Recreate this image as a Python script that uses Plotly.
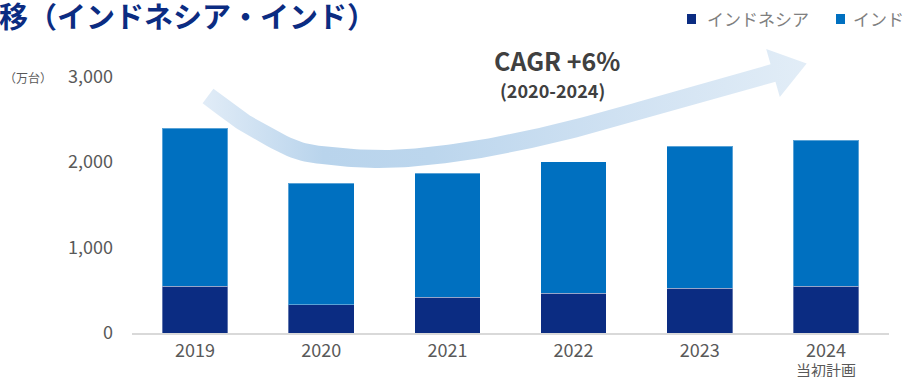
import numpy as np
import plotly.graph_objects as go

# ---- data (万台) ----
years = ["2019", "2020", "2021", "2022", "2023", "2024"]
indonesia = [545, 330, 420, 465, 525, 545]
india = [1850, 1420, 1450, 1535, 1660, 1710]
y_ticks = [0, 1000, 2000, 3000]

NAVY = "#0b2c82"
BLUE = "#0070c0"
GREY = "#595959"
FONT = "Noto Sans CJK JP"

W, H = 905, 377
L, R, T, B = 132, 16, 0, 44
PW, PH = W - L - R, H - T - B


def px(x):
    return (x - L) / PW


def py(y):
    return (H - B - y) / PH


fig = go.Figure()

fig.add_trace(go.Bar(
    x=years, y=indonesia, name="インドネシア",
    marker=dict(color=NAVY, line=dict(color="rgba(255,255,255,0.35)", width=1)),
    hoverinfo="skip",
))
fig.add_trace(go.Bar(
    x=years, y=india, name="インド",
    marker=dict(color=BLUE, line=dict(color="rgba(255,255,255,0.35)", width=1)),
    hoverinfo="skip",
))

# ---- curved growth arrow (drawn in pixel space on an overlay axis pair) ----
ctrl = np.array([
    (208, 96), (232, 114), (250, 126), (294, 149), (330, 156), (375, 159),
    (420, 157), (480, 149), (540, 137), (600, 122), (660, 105), (720, 88), (773, 73),
], dtype=float)


def catmull(points, n=12):
    pts = np.vstack([points[0], points, points[-1]])
    out = []
    for i in range(1, len(pts) - 2):
        p0, p1, p2, p3 = pts[i - 1], pts[i], pts[i + 1], pts[i + 2]
        for t in np.linspace(0, 1, n, endpoint=False):
            t2, t3 = t * t, t * t * t
            out.append(0.5 * ((2 * p1) + (-p0 + p2) * t + (2 * p0 - 5 * p1 + 4 * p2 - p3) * t2
                              + (-p0 + 3 * p1 - 3 * p2 + p3) * t3))
    out.append(points[-1])
    return np.array(out)


curve = catmull(ctrl)
tang = np.gradient(curve, axis=0)
tang /= np.linalg.norm(tang, axis=1, keepdims=True)
norm = np.stack([-tang[:, 1], tang[:, 0]], axis=1)
half = 9.0
upper = curve - norm * half
lower = curve + norm * half
d_end = tang[-1]
n_end = norm[-1]
base = curve[-1]
tip = base + d_end * 35
wing_a = base - n_end * 25
wing_b = base + n_end * 25
poly = np.vstack([upper, wing_a, tip, wing_b, lower[::-1], upper[:1]])

fig.add_trace(go.Scatter(
    x=poly[:, 0], y=poly[:, 1], xaxis="x2", yaxis="y2",
    mode="lines", line=dict(width=0), fill="toself",
    fillgradient=dict(
        type="horizontal",
        colorscale=[[0, "#e1ecf7"], [0.2, "#b9d4ec"], [0.38, "#bcd6ed"],
                    [0.68, "#cfe1f2"], [1, "#e2edf7"]],
    ),
    hoverinfo="skip", showlegend=False,
))

annotations = [
    dict(x=px(-3), y=py(15), xref="paper", yref="paper", xanchor="left", yanchor="middle",
         text="<b>移（インドネシア・インド）</b>", showarrow=False,
         font=dict(family=FONT, size=29, color=NAVY)),
    dict(x=px(28), y=py(77), xref="paper", yref="paper", xanchor="center", yanchor="middle",
         text="（万台）", showarrow=False, font=dict(family=FONT, size=12, color=GREY)),
    dict(x=px(557), y=py(60), xref="paper", yref="paper", xanchor="center", yanchor="middle",
         text="<b>CAGR +6%</b>", showarrow=False, font=dict(family=FONT, size=25, color="#404040")),
    dict(x=px(552), y=py(90), xref="paper", yref="paper", xanchor="center", yanchor="middle",
         text="<b>(2020-2024)</b>", showarrow=False, font=dict(family=FONT, size=18, color="#404040")),
    dict(x=px(826), y=py(369), xref="paper", yref="paper", xanchor="center", yanchor="middle",
         text="当初計画", showarrow=False, font=dict(family=FONT, size=15, color=GREY)),
    dict(x=px(705), y=py(18), xref="paper", yref="paper", xanchor="left", yanchor="middle",
         text="インドネシア", showarrow=False, font=dict(family=FONT, size=17, color="#7f7f7f")),
    dict(x=px(851), y=py(18), xref="paper", yref="paper", xanchor="left", yanchor="middle",
         text="インド", showarrow=False, font=dict(family=FONT, size=17, color="#7f7f7f")),
]

shapes = [
    dict(type="rect", xref="paper", yref="paper", x0=px(687), x1=px(696), y0=py(14), y1=py(24),
         fillcolor=NAVY, line=dict(width=0)),
    dict(type="rect", xref="paper", yref="paper", x0=px(836), x1=px(845), y0=py(14), y1=py(24),
         fillcolor=BLUE, line=dict(width=0)),
]

y_top = 3000 * PH / (333.3 - 76.7)

fig.update_layout(
    width=W, height=H,
    margin=dict(l=L, r=R, t=T, b=B, pad=0),
    barmode="stack", bargap=0.48,
    paper_bgcolor="white", plot_bgcolor="white",
    showlegend=False,
    font=dict(family=FONT, color=GREY),
    xaxis=dict(
        type="category", range=[-0.5, 5.5], showgrid=False, zeroline=False,
        showline=True, linecolor="#d9d9d9", linewidth=2, ticks="",
        tickfont=dict(family=FONT, size=18, color=GREY),
        fixedrange=True,
    ),
    yaxis=dict(
        range=[0, y_top], tickvals=y_ticks, tickformat=",", showgrid=False, zeroline=False,
        showline=False, ticks="", ticklabelstandoff=18,
        tickfont=dict(family=FONT, size=18, color=GREY), fixedrange=True,
    ),
    xaxis2=dict(overlaying="x", range=[L, W - R], visible=False, fixedrange=True),
    yaxis2=dict(overlaying="y", range=[H - B, T], visible=False, fixedrange=True),
    annotations=annotations,
    shapes=shapes,
)

fig.write_html("out.html", config={"displayModeBar": False})
